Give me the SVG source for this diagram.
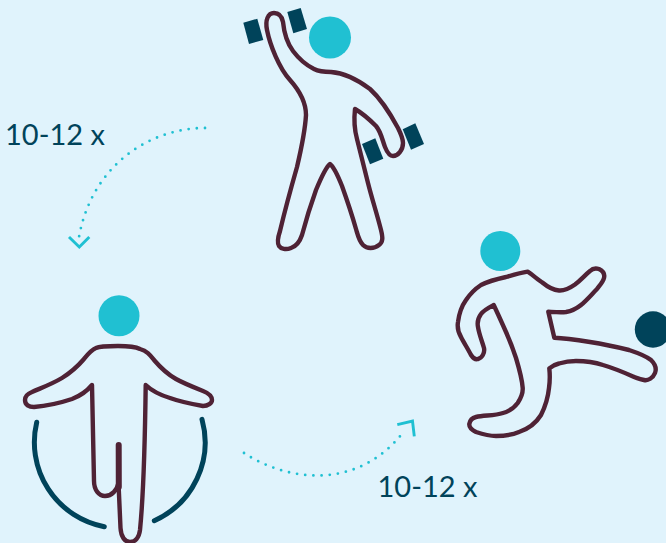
<svg xmlns="http://www.w3.org/2000/svg" width="666" height="543" viewBox="0 0 666 543">
<style>
.body{fill:none;stroke:#4f2235;stroke-width:4.4;stroke-linejoin:round;stroke-linecap:round}
.head{fill:#20c0d2}
.dark{fill:#00435a}
.rope{fill:none;stroke:#00435a;stroke-width:5;stroke-linecap:round}
.dots{fill:none;stroke:#20c0d2;stroke-width:2.8;stroke-linecap:round;stroke-dasharray:0 8.2}
.tip{fill:none;stroke:#20c0d2;stroke-width:2.9}
.lbl{font-family:"Lato","Liberation Sans",sans-serif;font-size:29px;fill:#00435a}
</style>
<rect width="666" height="543" fill="#e0f3fc"/>
<g id="connectors">
<path class="dots" d="M205,128 C150,128 92,165 79,237"/>
<path class="tip" d="M69,237 L79.3,247 L89.3,237"/>
<path class="dots" d="M244,453 C290,483 360,490 405,430"/>
<path class="tip" d="M397.3,424.7 L412.5,421 L414.3,436.3"/>
</g>
<g id="figure-dumbbells">
<circle class="head" cx="330" cy="37.5" r="21"/>
<polygon class="dark" points="243.3,22.7 257.3,18.7 263.3,40 249,44"/>
<polygon class="dark" points="287.3,12 300.7,8 307,29 293.3,33.3"/>
<polygon class="dark" points="362,144 375.3,138.3 383.3,158.7 370,164.3"/>
<polygon class="dark" points="402.7,129.3 415.3,123.3 424,144 411,149.7"/>
<path class="body" d="M274,13 C279,13 282,17 283,22 C284,32 287,43 293,51 C299,59 306,65 314,69 C320,72 325,72 331,72 C345,73 358,80 370,89 C381,99 391,115 398,128 C401,134 403,139 403,143 C403,150 398,156 393,156 C389,156 387,152 385,147 C382,139 381,132 376,126 C370,120 362,113 355,109 C354,118 354,128 357,139 L368,183 C372,199 377,214 381,230 C383,238 383,242 379,245 C374,249 367,249 363,245 C359,241 358,236 356,229 C352,215 347,200 342,186 C338,176 334,167 330,164 C326,167 321,178 316,190 C311,204 306,220 302,235 C300,241 297,246 291,248 C286,250 281,249 279,246 C277,243 278,237 280,231 C285,210 291,188 297,167 C301,150 305,132 306,115 C306,100 298,89 290,80 C279,68 270,45 267,30 C265,20 268,13 274,13 Z"/>
</g>
<g id="figure-rope">
<circle class="head" cx="119" cy="315.7" r="20.5"/>
<path class="body" d="M118,346 C110,346 100,346 96,348 C91,350 88,354 84,359 C78,366 70,373 62,378 C52,384 41,388 32,392 C27,394 25,397 25,400 C25,405 29,407 34,407 C46,406 60,403 72,399 C80,396 87,391 92,385 L94,481 C94,490 99,496 105,496 C112,496 117,490 118.5,483 L120.5,528 C121,537 125,542 130,542 C135,542 139,538 140,530 C143,500 145,440 145.7,385 C152,391 160,395 170,398 C181,402 192,404 203,406 C208,406 212,403 212,400 C212,396 208,393 203,391 C193,387 183,383 176,379 C167,374 160,367 154,360 C150,355 147,351 140,349 C134,346 125,346 118,346 Z"/>
<path d="M118.7,445 L118.8,487" fill="none" stroke="#4f2235" stroke-width="6" stroke-linecap="round"/>
<path class="rope" d="M36.7,422.3 A86,86 0 0 0 104.3,526.7"/>
<path class="rope" d="M202,419.3 A86,86 0 0 1 154.3,520.7"/>
</g>
<g id="figure-kick">
<circle class="head" cx="500.3" cy="251" r="20"/>
<circle class="dark" cx="653" cy="329.5" r="18.2"/>
<path class="body" d="M527.7,271.7 C533,275 538,280 543,283 C549,288 554,290 559,290.5 C565,291 570,288 575,284.5 C581,280 585,275 590,271 C593,268 596,268 599,269 C603,271 605,274 604,278 C603,282 600,285 597,289 C592,294 587,300 581,305 C576,309 572,311 566,312 C560,312.5 554,312 548.3,311.7 L554.3,337.7 C566,338 578,340 590,342 C603,344 617,347 629,350 C638,353 646,356 651,360 C655,364 657,368 655,373 C653,378 648,381 644,380 C640,379 636,378 633,376.5 C623,372 613,368 603,365 C594,362 585,361 576,361 C570,361 564,362 559,363.5 C555,364.5 552,366 549.3,368.3 C550,375 550,381 549,388 C548,398 545,407 541,415 C536,423 528,429 519,432 C512,435 504,436 496,436 C489,436 482,434 476,432 C472,430 469,427 469.3,424 C470,420 472,418 476,417 C484,415 494,416 503,413 C510,411 514,408 517.7,403 C521,398 523,393 522.7,388 C522,378 519,368 516,358 C513,349 510,341 506,332 C502,323 498,314 493.7,305 C488,308 484,310 481,314 C478,318 477,322 478,327 C479,334 482,341 484,348 C485,353 482,358 478,359 C475,360 473,358 471,355 C468,349 464,343 461,337 C458,332 457,328 458,322 C459,314 461,307 466,300 C470,294 475,289 481,285 C489,281 497,279 506,277 C513,275 520,273 527.7,271.7 Z"/>
</g>
<text class="lbl" x="5" y="144.5">10-12 x</text>
<text class="lbl" x="377.5" y="497">10-12 x</text>
</svg>
